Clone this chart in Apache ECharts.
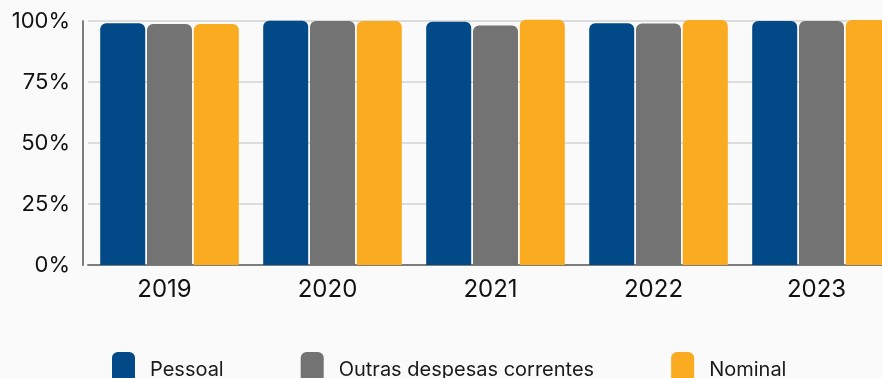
<!DOCTYPE html>
<html>
<head>
<meta charset="utf-8">
<script src="https://cdn.jsdelivr.net/npm/echarts@6/dist/echarts.min.js"></script>
<style>
  html, body { margin: 0; padding: 0; background: #fafafa; }
  #chart { width: 882px; height: 378px; }
</style>
</head>
<body>
<div id="chart"></div>
<script>
// Execution rate by expense group, per year (%)
const years = ['2019', '2020', '2021', '2022', '2023'];
const pessoal = [99.1, 100.1, 99.7, 99.1, 100.0];
const outrasDespesas = [98.8, 100.0, 98.2, 99.0, 100.0];
const nominal = [98.8, 100.0, 100.5, 100.4, 100.4];
const yTicks = [0, 25, 50, 75, 100];

const seriesNames = ['Pessoal', 'Outras despesas correntes', 'Nominal'];
const seriesColors = ['#024a87', '#727372', '#fbab1f'];
const seriesData = [pessoal, outrasDespesas, nominal];

const FONT = 'Inter';

const chart = echarts.init(document.getElementById('chart'), null, { renderer: 'canvas' });

chart.setOption({
  backgroundColor: '#fafafa',
  animation: false,
  textStyle: { fontFamily: FONT },
  // plot area runs past the right edge of the canvas
  grid: { left: 88, top: 21, width: 815, height: 244, containLabel: false, outerBoundsMode: 'none' },
  legend: {
    left: 107,
    top: 347,
    itemWidth: 23,
    itemHeight: 36,
    itemGap: 77,
    icon: 'roundRect',
    textStyle: { fontFamily: FONT, fontSize: 20, color: '#1a1a1a', padding: [0, 0, 0, 10] },
    data: seriesNames
  },
  xAxis: {
    type: 'category',
    data: years,
    axisLine: { show: true, lineStyle: { color: '#7d7d7d', width: 2 } },
    axisTick: { show: false },
    axisLabel: {
      fontFamily: FONT, fontSize: 24, color: '#111', margin: 13,
      padding: [0, 10, 0, 0]
    }
  },
  yAxis: {
    type: 'value',
    min: yTicks[0],
    max: yTicks[yTicks.length - 1],
    interval: 25,
    offset: 5,
    axisLine: { show: true, lineStyle: { color: '#7d7d7d', width: 2 } },
    axisTick: { show: false },
    splitLine: { lineStyle: { color: '#dcdcdc', width: 2 } },
    axisLabel: {
      fontFamily: FONT, fontSize: 22, color: '#111', margin: 13,
      padding: [8, 0, 0, 0],
      formatter: '{value}%'
    }
  },
  series: seriesNames.map((name, i) => ({
    name: name,
    type: 'bar',
    data: seriesData[i],
    barWidth: 45,
    barGap: '4%',
    clip: false,
    itemStyle: { color: seriesColors[i], borderRadius: [6, 6, 0, 0] }
  }))
});
</script>
</body>
</html>
